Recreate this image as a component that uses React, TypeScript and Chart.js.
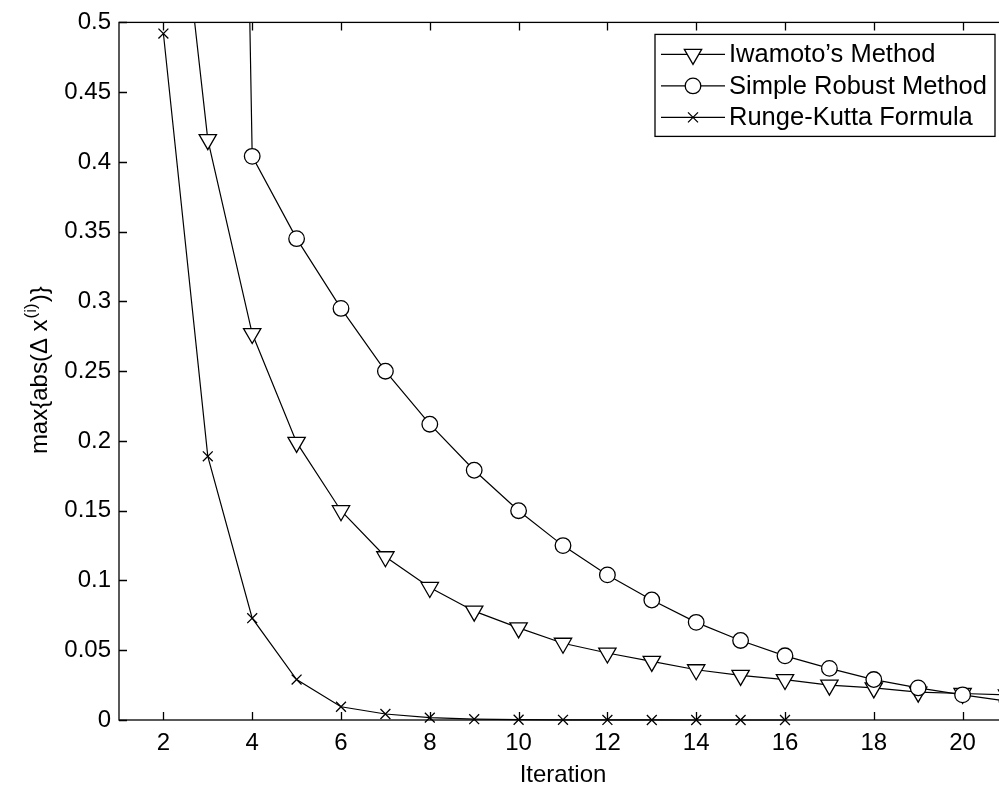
import React, { useEffect, useRef } from "react";
import { Chart, registerables } from "chart.js";

Chart.register(...registerables);

// ---- data ----
const iwamotoIter = [2, 3, 4, 5, 6, 7, 8, 9, 10, 11, 12, 13, 14, 15, 16, 17, 18, 19, 20, 21];
const iwamotoVals = [0.70, 0.416, 0.277, 0.199, 0.150, 0.117, 0.095, 0.078, 0.066, 0.055, 0.048, 0.042, 0.036, 0.032, 0.029, 0.025, 0.023, 0.020, 0.019, 0.018];

const robustIter = [3, 4, 5, 6, 7, 8, 9, 10, 11, 12, 13, 14, 15, 16, 17, 18, 19, 20, 21];
const robustVals = [2.2, 0.404, 0.345, 0.295, 0.250, 0.212, 0.179, 0.150, 0.125, 0.104, 0.086, 0.070, 0.057, 0.046, 0.037, 0.029, 0.023, 0.018, 0.0135];

const rkIter = [2, 3, 4, 5, 6, 7, 8, 9, 10, 11, 12, 13, 14, 15, 16];
const rkVals = [0.492, 0.189, 0.073, 0.029, 0.0095, 0.0043, 0.0017, 0.0006, 0.0002, 0.0001, 0.00004, 0.00002, 0.00001, 0, 0];

const seriesNames = ["Iwamoto\u2019s Method", "Simple Robust Method", "Runge-Kutta Formula"];
const xTicks = [2, 4, 6, 8, 10, 12, 14, 16, 18, 20];
const yTicks = [0, 0.05, 0.1, 0.15, 0.2, 0.25, 0.3, 0.35, 0.4, 0.45, 0.5];
const yTickLabels = ["0", "0.05", "0.1", "0.15", "0.2", "0.25", "0.3", "0.35", "0.4", "0.45", "0.5"];
const xTitle = "Iteration";
const yTitleMain = "max{abs(\u0394 x";
const yTitleSup = "(i)";
const yTitleEnd = ")}";

const FONT = '"Liberation Sans", Arial, Helvetica, sans-serif';
const FS = 24;
const LEGEND_FS = 25.5;

function toPts(xs: number[], ys: number[]) {
  return xs.map((x, i) => ({ x, y: ys[i] }));
}

function drawMarker(ctx: CanvasRenderingContext2D, kind: string, x: number, y: number) {
  ctx.save();
  ctx.fillStyle = "#fff";
  ctx.strokeStyle = "#000";
  ctx.lineWidth = 1.3;
  ctx.beginPath();
  if (kind === "tri") {
    const r = 10;
    ctx.moveTo(x, y + r);
    ctx.lineTo(x - r * Math.sin(Math.PI / 3), y - r / 2);
    ctx.lineTo(x + r * Math.sin(Math.PI / 3), y - r / 2);
    ctx.closePath();
    ctx.fill();
    ctx.stroke();
  } else if (kind === "circ") {
    ctx.arc(x, y, 7.8, 0, Math.PI * 2);
    ctx.fill();
    ctx.stroke();
  } else {
    const d = 5;
    ctx.moveTo(x - d, y - d);
    ctx.lineTo(x + d, y + d);
    ctx.moveTo(x - d, y + d);
    ctx.lineTo(x + d, y - d);
    ctx.stroke();
  }
  ctx.restore();
}

const framePlugin = {
  id: "matlabFrame",
  afterDraw(chart: any) {
    const { ctx, chartArea: a, scales } = chart;
    ctx.save();
    ctx.strokeStyle = "#000";
    ctx.lineWidth = 1.3;
    ctx.strokeRect(a.left, a.top, a.right - a.left, a.bottom - a.top);
    const tl = 8;
    ctx.beginPath();
    for (const v of xTicks) {
      const px = Math.round(scales.x.getPixelForValue(v)) + 0.5;
      ctx.moveTo(px, a.bottom);
      ctx.lineTo(px, a.bottom - tl);
      ctx.moveTo(px, a.top);
      ctx.lineTo(px, a.top + tl);
    }
    for (const v of yTicks) {
      const py = Math.round(scales.y.getPixelForValue(v)) + 0.5;
      ctx.moveTo(a.left, py);
      ctx.lineTo(a.left + tl, py);
      ctx.moveTo(a.right, py);
      ctx.lineTo(a.right - tl, py);
    }
    ctx.stroke();

    // legend
    const lw = 340, lh = 102;
    const lx = a.right - 12 - lw;
    const ly = a.top + 12;
    ctx.fillStyle = "#fff";
    ctx.fillRect(lx, ly, lw, lh);
    ctx.lineWidth = 1.3;
    ctx.strokeRect(lx, ly, lw, lh);
    const kinds = ["tri", "circ", "x"];
    ctx.font = `${LEGEND_FS}px ${FONT}`;
    ctx.textBaseline = "middle";
    ctx.textAlign = "left";
    for (let i = 0; i < 3; i++) {
      const ry = ly + 20 + i * 31.5;
      ctx.beginPath();
      ctx.lineWidth = 1.2;
      ctx.moveTo(lx + 6, ry);
      ctx.lineTo(lx + 70, ry);
      ctx.stroke();
      drawMarker(ctx, kinds[i], lx + 38, ry);
      ctx.fillStyle = "#000";
      ctx.fillText(seriesNames[i], lx + 74, ry + 1);
    }

    // x title
    ctx.fillStyle = "#000";
    ctx.font = `${FS}px ${FONT}`;
    ctx.textAlign = "center";
    ctx.textBaseline = "alphabetic";
    ctx.fillText(xTitle, (a.left + a.right) / 2, 782);

    // y title with superscript
    ctx.save();
    ctx.translate(47, (a.top + a.bottom) / 2);
    ctx.rotate(-Math.PI / 2);
    ctx.textAlign = "left";
    ctx.font = `${FS}px ${FONT}`;
    const w1 = ctx.measureText(yTitleMain).width;
    const w3 = ctx.measureText(yTitleEnd).width;
    ctx.font = `${Math.round(FS * 0.7)}px ${FONT}`;
    const w2 = ctx.measureText(yTitleSup).width;
    const start = -(w1 + w2 + w3) / 2;
    ctx.font = `${FS}px ${FONT}`;
    ctx.fillText(yTitleMain, start, 0);
    ctx.font = `${Math.round(FS * 0.7)}px ${FONT}`;
    ctx.fillText(yTitleSup, start + w1 + 1, -11);
    ctx.font = `${FS}px ${FONT}`;
    ctx.fillText(yTitleEnd, start + w1 + w2 + 2, 0);
    ctx.restore();

    ctx.restore();
  },
};

export default function App() {
  const ref = useRef<HTMLCanvasElement | null>(null);

  useEffect(() => {
    if (!ref.current) return;
    const common = {
      borderColor: "#000",
      borderWidth: 1.2,
      pointBorderColor: "#000",
      pointBackgroundColor: "#fff",
      pointBorderWidth: 1.3,
      tension: 0,
      fill: false,
      clip: { left: 0, top: 0, right: 0, bottom: 12 },
    };
    const chart = new Chart(ref.current, {
      type: "line",
      data: {
        datasets: [
          {
            ...common,
            label: seriesNames[0],
            data: toPts(iwamotoIter, iwamotoVals),
            pointStyle: "triangle",
            pointRotation: 180,
            pointRadius: 10,
            order: 1,
          },
          {
            ...common,
            label: seriesNames[1],
            data: toPts(robustIter, robustVals),
            pointStyle: "circle",
            pointRadius: 7.8,
            order: 0,
          },
          {
            ...common,
            label: seriesNames[2],
            data: toPts(rkIter, rkVals),
            pointStyle: "crossRot",
            pointRadius: 7,
            order: 2,
          },
        ],
      } as any,
      options: {
        responsive: false,
        animation: false,
        devicePixelRatio: 1,
        layout: { padding: { left: 0, top: 20, right: 13, bottom: 0 } },
        plugins: {
          legend: { display: false },
          tooltip: { enabled: false },
        },
        scales: {
          x: {
            type: "linear",
            min: 1,
            max: 21,
            grid: { display: false, drawTicks: false },
            border: { display: false },
            afterBuildTicks: (s: any) => {
              s.ticks = xTicks.map((v) => ({ value: v }));
            },
            afterFit: (s: any) => {
              s.height = 67;
            },
            ticks: {
              color: "#000",
              padding: 9,
              maxRotation: 0,
              autoSkip: false,
              font: { family: FONT, size: FS },
              callback: (v: any) => String(v),
            },
          },
          y: {
            type: "linear",
            min: 0,
            max: 0.5,
            grid: { display: false, drawTicks: false },
            border: { display: false },
            afterBuildTicks: (s: any) => {
              s.ticks = yTicks.map((v) => ({ value: v }));
            },
            afterFit: (s: any) => {
              s.width = 119;
            },
            ticks: {
              color: "#000",
              padding: 8,
              autoSkip: false,
              font: { family: FONT, size: FS },
              callback: (v: any) => {
                const i = yTicks.findIndex((t) => Math.abs(t - v) < 1e-9);
                return i >= 0 ? yTickLabels[i] : "";
              },
            },
          },
        },
      } as any,
      plugins: [framePlugin],
    });
    return () => chart.destroy();
  }, []);

  return (
    <div
      style={{
        position: "fixed",
        left: 0,
        top: 0,
        width: 999,
        height: 787,
        overflow: "hidden",
        background: "#fff",
      }}
    >
      <canvas ref={ref} width={1020} height={787} style={{ display: "block", width: 1020, height: 787 }} />
    </div>
  );
}
